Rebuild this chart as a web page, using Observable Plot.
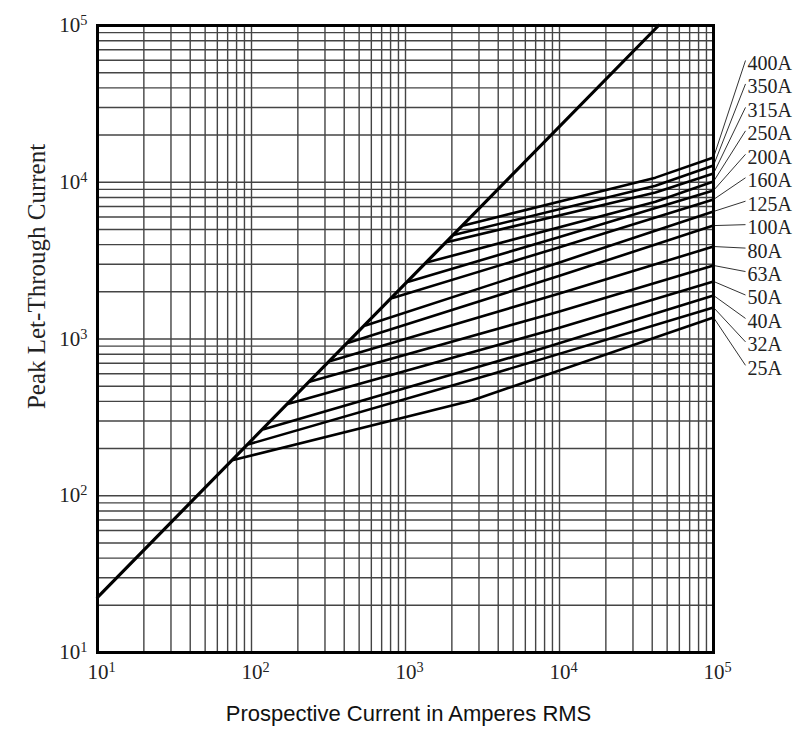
<!DOCTYPE html>
<html><head><meta charset="utf-8">
<script src="https://cdn.jsdelivr.net/npm/d3@7"></script>
<script src="https://cdn.jsdelivr.net/npm/@observablehq/plot@0.6"></script>
<style>body{margin:0;background:#fff}</style>
</head><body><div id="chart"></div>
<script>
// ---- data ----
const fuses  = ["25A","32A","40A","50A","63A","80A","100A","125A","160A","200A","250A","315A","350A","400A"];
const startX = [76, 96, 120, 174, 241, 326, 426, 550, 824, 1045, 1390, 1875, 2080, 2385];
const startY = [169, 213, 266, 386, 535, 724, 946, 1221, 1829, 2320, 3086, 4163, 4618, 5295];
const kinkX  = [2700, 3700, 8000, 10000, 10000, 10000, 10000, 10000, 10000, 10000, 42000, 42000, 42000, 42000];
const kinkY  = [405, 600, 880, 1180, 1500, 1950, 2530, 3080, 3850, 4480, 7500, 8600, 9500, 10700];
const endX   = 100000;
const endY   = [1372, 1589, 1897, 2330, 2945, 3890, 5290, 6510, 7760, 8860, 10110, 11370, 12800, 14380];
const diagX  = [10, 44000];
const diagY  = [22.5, 100000];
const tickVals = [10, 100, 1000, 10000, 100000];
const xTitle = "Prospective Current in Amperes RMS";
const yTitle = "Peak Let-Through Current";

// ---- layout ----
const W = 795, H = 738, mL = 97, mR = 82, mT = 25, mB = 86;
const xs = Plot.scale({x: {type: "log", domain: [10, 1e5], range: [mL, W - mR]}});
const ys = Plot.scale({y: {type: "log", domain: [10, 1e5], range: [H - mB, mT]}});

const grid = [10, 100, 1000, 10000].flatMap(d => d3.range(1, 10).map(k => d * k)).concat([1e5]);

const curves = fuses.flatMap((f, i) => [
  {f, x: startX[i], y: startY[i]},
  {f, x: kinkX[i], y: kinkY[i]},
  {f, x: endX, y: endY[i]}
]);
const diag = diagX.map((x, i) => ({x, y: diagY[i]}));

// label column (top label = last fuse)
const labTop = 63, labStep = 23.45;
const labels = fuses.map((f, i) => {
  const py = labTop + (fuses.length - 1 - i) * labStep;
  return {
    f,
    x: xs.invert(W - mR + 34),
    y: ys.invert(py),
    lx: xs.invert(W - mR + 32),
    ly: ys.invert(py - 3),
    ex: endX,
    ey: endY[i]
  };
});

const serif = "'Liberation Serif', 'DejaVu Serif', serif";
const expOf = d => String(Math.round(Math.log10(d)));

const chart = Plot.plot({
  width: W, height: H,
  marginLeft: mL, marginRight: mR, marginTop: mT, marginBottom: mB,
  style: {background: "#fff", overflow: "visible"},
  x: {type: "log", domain: [10, 1e5]},
  y: {type: "log", domain: [10, 1e5]},
  marks: [
    Plot.ruleX(grid, {x: d => d, stroke: "#444", strokeWidth: 1.4}),
    Plot.ruleY(grid, {y: d => d, stroke: "#444", strokeWidth: 1.4}),
    Plot.line(curves, {x: "x", y: "y", z: "f", stroke: "#000", strokeWidth: 2.6, strokeLinejoin: "round"}),
    Plot.line(diag, {x: "x", y: "y", stroke: "#000", strokeWidth: 3.2}),
    Plot.link(labels, {x1: "ex", y1: "ey", x2: "lx", y2: "ly", stroke: "#333", strokeWidth: 1}),
    Plot.text(labels, {x: "x", y: "y", text: "f", textAnchor: "start", fontSize: 20, fontFamily: serif, fill: "#222"}),
    Plot.frame({stroke: "#000", strokeWidth: 3}),
    Plot.axisX(tickVals, {tickSize: 0, tickPadding: 12, fontSize: 21, fontFamily: serif, fill: "#222", dx: 4,
      tickFormat: d => "10^" + expOf(d), label: null}),
    Plot.axisY(tickVals, {tickSize: 0, tickPadding: 10, fontSize: 21, fontFamily: serif, fill: "#222",
      tickFormat: d => "10^" + expOf(d), label: null}),
    Plot.text([xTitle], {frameAnchor: "bottom", dy: 68, dx: 3, text: d => d, fontSize: 22,
      fontFamily: "'Liberation Sans', Arial, sans-serif", fill: "#111"}),
    Plot.text([yTitle], {x: () => xs.invert(36), y: () => ys.invert(276), rotate: -90, text: d => d, fontSize: 25,
      fontFamily: serif, fill: "#222", letterSpacing: 3})
  ]
});

// render exponents as superscripts
const ns = "http://www.w3.org/2000/svg";
chart.querySelectorAll('g[aria-label="x-axis tick label"] text, g[aria-label="y-axis tick label"] text').forEach(t => {
  const s = t.textContent;
  if (!s.includes("^")) return;
  const [base, exp] = s.split("^");
  t.textContent = base;
  const ts = document.createElementNS(ns, "tspan");
  ts.setAttribute("dy", "-0.5em");
  ts.setAttribute("font-size", "0.68em");
  ts.textContent = exp;
  t.appendChild(ts);
});

document.getElementById("chart").appendChild(chart);
</script>
</body></html>
